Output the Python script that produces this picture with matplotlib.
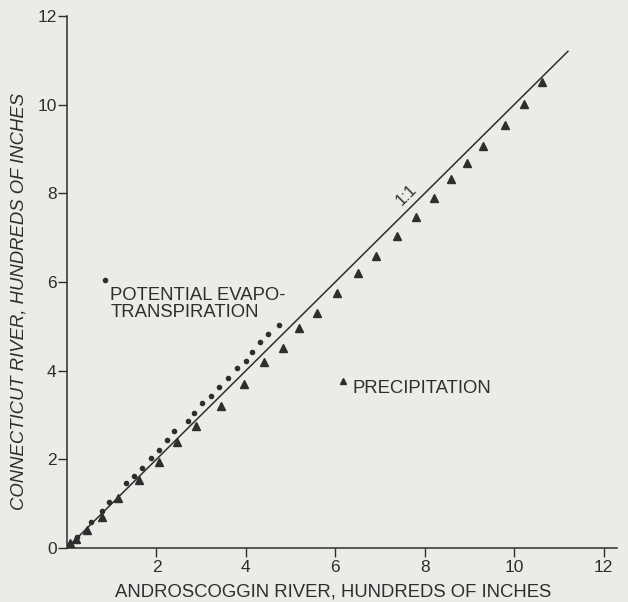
import matplotlib
matplotlib.use("Agg")
import matplotlib.pyplot as plt

# Potential evapotranspiration (dots)
pet_x = [4.74, 4.50, 4.32, 4.14, 4.00, 3.80, 3.60, 3.40, 3.22, 3.02, 2.84, 2.71,
         2.39, 2.24, 2.06, 1.88, 1.68, 1.50, 1.32, 0.94, 0.78, 0.54, 0.22]
pet_y = [5.03, 4.83, 4.65, 4.42, 4.22, 4.06, 3.84, 3.63, 3.43, 3.27, 3.05, 2.87,
         2.64, 2.44, 2.21, 2.03, 1.81, 1.63, 1.47, 1.04, 0.84, 0.59, 0.25]

# Precipitation (triangles)
pre_x = [10.63, 10.22, 9.80, 9.31, 8.95, 8.59, 8.21, 7.81, 7.38, 6.91, 6.51, 6.04,
         5.59, 5.19, 4.83, 4.41, 3.96, 3.44, 2.89, 2.46, 2.06, 1.61, 1.14, 0.78,
         0.45, 0.20, 0.07]
pre_y = [10.50, 10.02, 9.53, 9.07, 8.69, 8.33, 7.90, 7.47, 7.04, 6.59, 6.21, 5.76,
         5.30, 4.97, 4.51, 4.20, 3.70, 3.21, 2.75, 2.39, 1.94, 1.53, 1.13, 0.70,
         0.41, 0.20, 0.11]

one_to_one = [0, 11.2]
yticks = [0, 2, 4, 6, 8, 10, 12]
xticks = [2, 4, 6, 8, 10, 12]

ink = "#2e2e2e"
bg = "#ecebe8"
plt.rcParams['font.family'] = ['Liberation Sans', 'DejaVu Sans']

fig = plt.figure(figsize=(6.28, 6.02), dpi=100, facecolor=bg)
ax = fig.add_axes([0.1067, 0.0897, 0.876, 0.884])
ax.set_facecolor(bg)

ax.plot(one_to_one, one_to_one, color=ink, lw=1.1, zorder=2)
ax.plot(pet_x, pet_y, linestyle='none', marker='o', ms=3.0, color=ink, zorder=3)
ax.plot(pre_x, pre_y, linestyle='none', marker='^', ms=6.0, color=ink, zorder=3)

ax.set_xlim(0, 12.3)
ax.set_ylim(0, 12)
ax.set_xticks(xticks)
ax.set_yticks(yticks)
for s in ['top', 'right']:
    ax.spines[s].set_visible(False)
for s in ['left', 'bottom']:
    ax.spines[s].set_color(ink)
    ax.spines[s].set_linewidth(1.1)
ax.spines['bottom'].set_bounds(0, 12.3)
ax.tick_params(axis='both', colors=ink, labelsize=12.5, length=6.5, width=1.0)
ax.tick_params(axis='x', pad=2)
ax.tick_params(axis='y', pad=1)

ax.set_xlabel("ANDROSCOGGIN RIVER, HUNDREDS OF INCHES", fontsize=13.3, color=ink)
ax.set_ylabel("CONNECTICUT RIVER, HUNDREDS OF INCHES", fontsize=13.3, color=ink,
              style='italic')
ax.xaxis.set_label_coords(0.484, -0.066)
ax.yaxis.set_label_coords(-0.071, 0.463)

# legend-like labels
ax.plot([0.85], [6.05], linestyle='none', marker='o', ms=3.0, color=ink, clip_on=False)
ax.text(0.97, 5.88, "POTENTIAL EVAPO-\nTRANSPIRATION", fontsize=13.3, color=ink,
        va='top', ha='left', linespacing=1.0)
ax.plot([6.18], [3.77], linestyle='none', marker='^', ms=5.0, color=ink)
ax.text(6.38, 3.6, "PRECIPITATION", fontsize=13.3, color=ink, va='center', ha='left')

ax.text(7.6, 7.95, "1:1", fontsize=11.5, color=ink, rotation=45,
        ha='center', va='center', rotation_mode='anchor')

fig.savefig("out.png", dpi=100, facecolor=bg)
